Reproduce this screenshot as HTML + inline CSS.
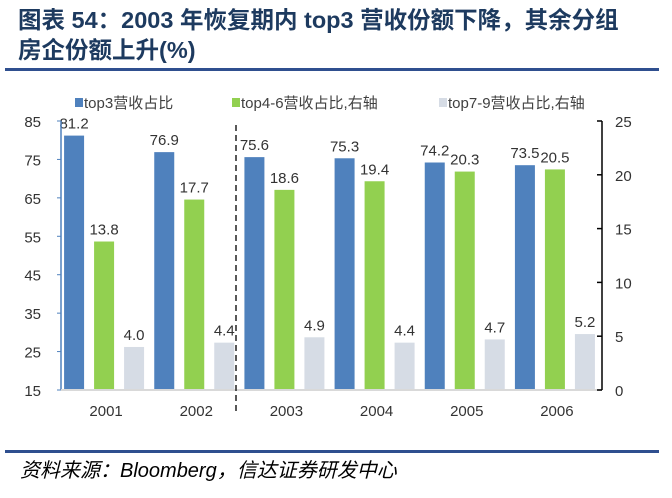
<!DOCTYPE html>
<html><head><meta charset="utf-8"><style>
body{margin:0;width:672px;height:498px;background:#fff;overflow:hidden;position:relative;font-family:"Liberation Sans","Noto Sans CJK SC",sans-serif}
#title{position:absolute;left:18px;top:5px;font-size:23.5px;font-weight:bold;color:#1d3a5f;line-height:30px;white-space:nowrap}
.rule{position:absolute;left:5px;width:654px;height:3px;background:#2f4f8f}
#src{position:absolute;left:20px;top:454px;font-size:20px;font-style:italic;color:#000;white-space:nowrap}
svg{position:absolute;left:0;top:0}
</style></head><body>
<div id="title">图表 54：2003 年恢复期内 top3 营收份额下降，其余分组<br>房企份额上升(%)</div>
<div class="rule" style="top:68px"></div>
<div class="rule" style="top:450px"></div>
<div id="src">资料来源：Bloomberg，信达证券研发中心</div>
<svg id="chart" width="672" height="498"></svg>
<script>
const years=["2001","2002","2003","2004","2005","2006"];
const top3=[81.2,76.9,75.6,75.3,74.2,73.5];
const top46=[13.8,17.7,18.6,19.4,20.3,20.5];
const top79=[4.0,4.4,4.9,4.4,4.7,5.2];
const leftTicks=[15,25,35,45,55,65,75,85];
const rightTicks=[0,5,10,15,20,25];
const NS="http://www.w3.org/2000/svg";
const svg=document.getElementById('chart');
const X0=61,X1=602,Y0=390,Y1=121;
const yL=v=>Y0-(v-15)/70*(Y0-Y1);
const yR=v=>Y0-v/25*(Y0-Y1);
const gw=(X1-X0)/years.length;
const xc=i=>X0+gw*(i+0.5);
function mk(t,a){const e=document.createElementNS(NS,t);for(const k in a)e.setAttribute(k,a[k]);svg.appendChild(e);return e;}
function txt(x,y,s,anchor,size,col){const e=mk('text',{x:x,y:y,'text-anchor':anchor,'font-size':size,fill:col||'#333','font-family':'Liberation Sans, Noto Sans CJK SC, sans-serif'});e.textContent=s;return e;}
const series=[{d:top3,f:yL,c:'#4f81bd',o:-30,n:'top3'},{d:top46,f:yR,c:'#92d050',o:0,n:'top4-6'},{d:top79,f:yR,c:'#d6dce5',o:30,n:'top7-9'}];
series.forEach(s=>{s.d.forEach((v,i)=>{
 const x=xc(i)+s.o-2,y=s.f(v);
 const r=mk('rect',{x:x-10,y:y,width:20,height:Y0-y,fill:s.c});
 
 
 const t=txt(x,y-7,v.toFixed(1),'middle',15);
 
 
});});
let a=mk('line',{x1:X0,y1:Y1,x2:X0,y2:Y0,stroke:'#4f81bd','stroke-width':1.5});

a=mk('line',{x1:X0,y1:Y0,x2:X1,y2:Y0,stroke:'#d9d9d9','stroke-width':2});

a=mk('line',{x1:X1,y1:Y1,x2:X1,y2:Y0,stroke:'#000','stroke-width':1.5});

leftTicks.forEach(v=>{mk('line',{x1:X0-4,y1:yL(v),x2:X0,y2:yL(v),stroke:'#4f81bd'});
 const t=txt(X0-20,yL(v)+6,String(v),'end',15);});
rightTicks.forEach(v=>{mk('line',{x1:X1-5,y1:yR(v),x2:X1,y2:yR(v),stroke:'#000','stroke-width':1.5});
 const t=txt(X1+13,yR(v)+6,String(v),'start',15);});
years.forEach((y,i)=>{const t=txt(xc(i),416,y,'middle',15);});
a=mk('line',{x1:236,y1:125,x2:236,y2:412,stroke:'#222','stroke-width':1.5,'stroke-dasharray':'6,4'});

[[75,'#4f81bd','top3营收占比'],[232,'#92d050','top4-6营收占比,右轴'],[439,'#d6dce5','top7-9营收占比,右轴']].forEach(l=>{
 const r=mk('rect',{x:l[0],y:98,width:8,height:9,fill:l[1]});
 const t=txt(l[0]+9,108,l[2],'start',15,'#404040');});
</script>
</body></html>
